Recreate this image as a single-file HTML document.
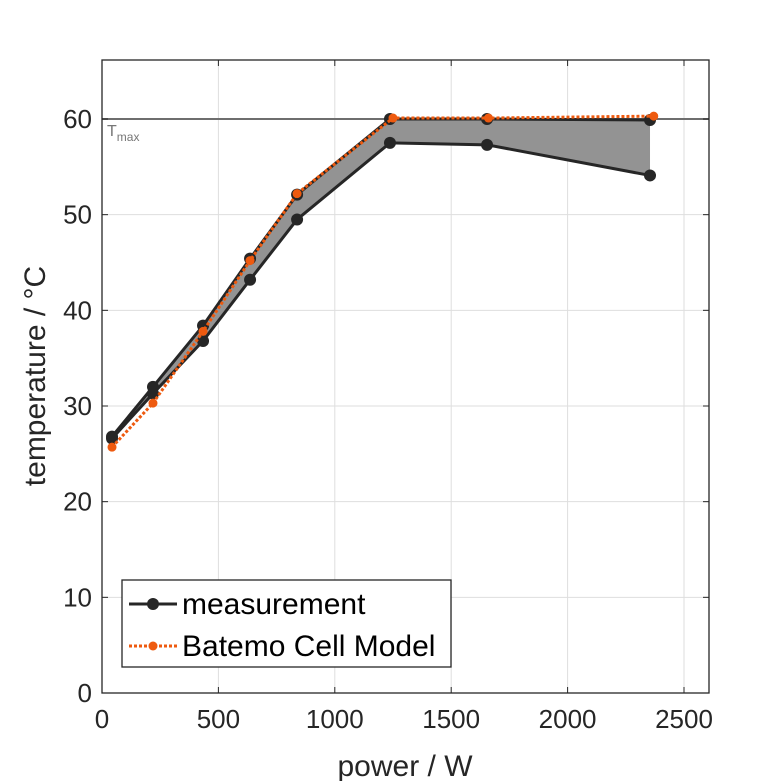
<!DOCTYPE html>
<html><head><meta charset="utf-8"><style>
html,body{margin:0;background:#fff;overflow:hidden}
svg{font-family:"Liberation Sans",sans-serif;display:block}
</style></head><body>
<svg id="c" width="781" height="781"></svg>
<script>
const powerW=[43,219,434,636,838,1237,1654,2354];
const measUpper=[26.8,32.0,38.4,45.4,52.1,60.0,60.0,59.9];
const measLower=[26.6,31.3,36.8,43.2,49.5,57.5,57.3,54.1];
const modelPowerW=[43,219,434,636,838,1250,1660,2370];
const modelTemp=[25.7,30.3,37.8,45.2,52.2,60.1,60.1,60.3];
const xTicks=[0,500,1000,1500,2000,2500];
const yTicks=[0,10,20,30,40,50,60];
const tmax=60;
const L=102,R=709,T=60,B=693;
const X=v=>L+v*(684-102)/2500;
const Y=v=>B-v*(B-119)/60;
const s=document.getElementById('c');const NS='http://www.w3.org/2000/svg';
function mk(t,a,p){const e=document.createElementNS(NS,t);for(const k in a)e.setAttribute(k,a[k]);(p||s).appendChild(e);return e;}
xTicks.forEach(v=>{const e=mk('line',{x1:X(v),x2:X(v),y1:T,y2:B,stroke:'#dedede'});

});
yTicks.forEach(v=>{const e=mk('line',{x1:L,x2:R,y1:Y(v),y2:Y(v),stroke:'#dedede'});

});
let pts=powerW.map((p,i)=>X(p)+','+Y(measUpper[i])).concat(powerW.slice().reverse().map((p,j)=>{const i=powerW.length-1-j;return X(p)+','+Y(measLower[i]);}));
const band=mk('polygon',{points:pts.join(' '),fill:'#939393'});


const tl=mk('line',{x1:L,x2:R,y1:Y(tmax),y2:Y(tmax),stroke:'#6e6e6e','stroke-width':2});


const tt=mk('text',{x:107,y:136,fill:'#777','font-size':16});tt.innerHTML='T<tspan font-size="12" dy="5">max</tspan>';


[measUpper,measLower].forEach((arr,k)=>{
const pl=mk('polyline',{points:powerW.map((p,i)=>X(p)+','+Y(arr[i])).join(' '),fill:'none',stroke:'#262626','stroke-width':3});


powerW.forEach((p,i)=>{const c=mk('circle',{cx:X(p),cy:Y(arr[i]),r:6,fill:'#262626'});

});
});
const ml=mk('polyline',{points:modelPowerW.map((p,i)=>X(p)+','+Y(modelTemp[i])).join(' '),fill:'none',stroke:'#ee5a0f','stroke-width':3,'stroke-dasharray':'3,2'});


modelPowerW.forEach((p,i)=>{const c=mk('circle',{cx:X(p),cy:Y(modelTemp[i]),r:4.5,fill:'#ee5a0f'});

});
const bx=mk('rect',{x:L,y:T,width:R-L,height:B-T,fill:'none',stroke:'#262626','stroke-width':1.3});


xTicks.forEach(v=>{mk('line',{x1:X(v),x2:X(v),y1:B,y2:B-6,stroke:'#262626'});mk('line',{x1:X(v),x2:X(v),y1:T,y2:T+6,stroke:'#262626'});
const t=mk('text',{x:X(v),y:B+35,'text-anchor':'middle','font-size':26,fill:'#262626'});t.textContent=v;

});
yTicks.forEach(v=>{mk('line',{x1:L,x2:L+6,y1:Y(v),y2:Y(v),stroke:'#262626'});mk('line',{x1:R,x2:R-6,y1:Y(v),y2:Y(v),stroke:'#262626'});
const t=mk('text',{x:L-10,y:Y(v)+9,'text-anchor':'end','font-size':26,fill:'#262626'});t.textContent=v;

});
const xl=mk('text',{x:405,y:776,'text-anchor':'middle','font-size':30,fill:'#262626'});xl.textContent='power / W';


const yl=mk('text',{x:0,y:0,'text-anchor':'middle','font-size':30,fill:'#262626',transform:'translate(45,376) rotate(-90)'});yl.textContent='temperature / °C';


const lg=mk('g',{});


mk('rect',{x:122,y:580,width:329,height:87,fill:'#fff',stroke:'#262626','stroke-width':1.3},lg);
mk('line',{x1:129,x2:177,y1:604,y2:604,stroke:'#262626','stroke-width':3},lg);
mk('circle',{cx:153,cy:604,r:6,fill:'#262626'},lg);
const t1=mk('text',{x:182,y:614,'font-size':30,fill:'#000'},lg);t1.textContent='measurement';


mk('line',{x1:129,x2:177,y1:646,y2:646,stroke:'#ee5a0f','stroke-width':3,'stroke-dasharray':'3,2'},lg);
mk('circle',{cx:153,cy:646,r:4.5,fill:'#ee5a0f'},lg);
const t2=mk('text',{x:182,y:656,'font-size':30,fill:'#000'},lg);t2.textContent='Batemo Cell Model';


</script>
</body></html>
